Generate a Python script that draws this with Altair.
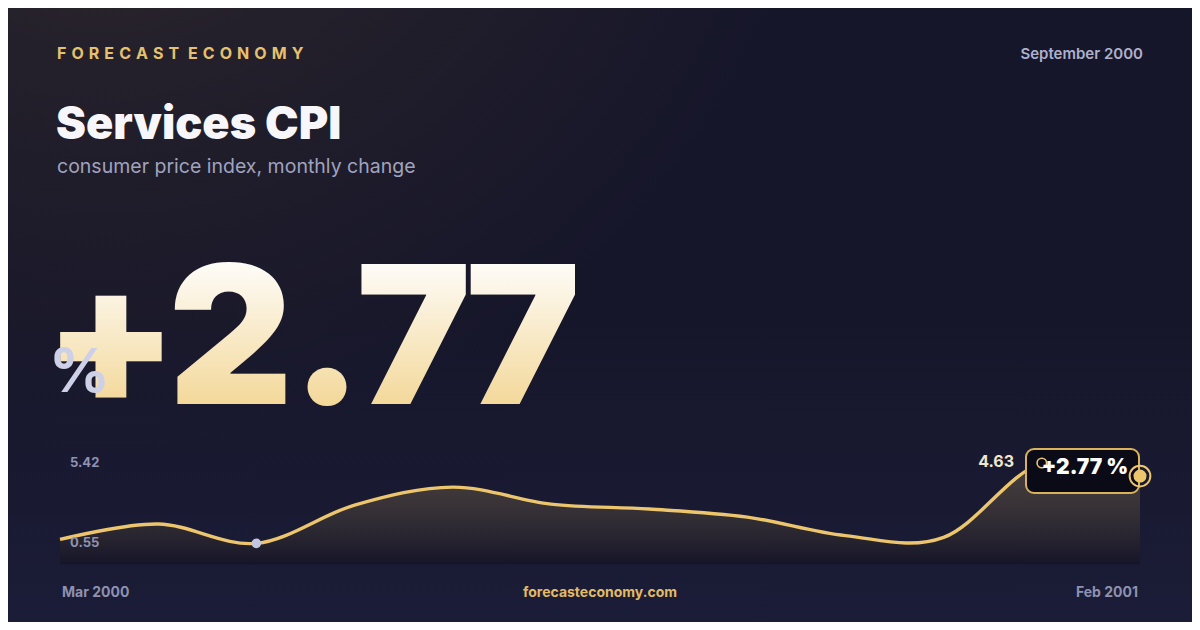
import altair as alt
import pandas as pd

# ---------------- data ----------------
months = ["Mar 2000", "Apr 2000", "May 2000", "Jun 2000", "Jul 2000", "Aug 2000",
          "Sep 2000", "Oct 2000", "Nov 2000", "Dec 2000", "Jan 2001", "Feb 2001"]
values = [0.79, 1.72, 0.55, 2.87, 3.96, 2.93, 2.63, 2.14, 1.02, 0.91, 5.42, 4.63]
change_label = "+2.77"
brand = "FORECAST ECONOMY"
period = "September 2000"
title = "Services CPI"
subtitle = "consumer price index, monthly change"
site = "forecasteconomy.com"

W, H = 1184, 614
FONT = "Inter"
GOLD = "#ecc56c"

df = pd.DataFrame({"i": list(range(len(months))), "month": months, "value": values})
vmin, vmax = df["value"].min(), df["value"].max()
df_min = df[df["value"] == vmin]
df_max = df[df["value"] == vmax]
df_last = df.iloc[[-1]].copy()
df_last["lbl"] = [f"{df_last['value'].iloc[0]:.2f}"]
df_last["badge"] = [change_label + " %"]
df_ext = pd.DataFrame({"i": [0, 0], "value": [vmax, vmin],
                       "lbl": [f"{vmax:.2f}", f"{vmin:.2f}"], "dy": [-2, 4]})
one = pd.DataFrame({"k": [0]})

Y_LO = -0.72
xs = alt.Scale(domain=[0, len(months) - 1], range=[52, 1132], nice=False, zero=False)
ys = alt.Scale(domain=[Y_LO, vmax], range=[556.3, 455.0], nice=False, zero=False)
X = alt.X("i:Q", scale=xs, axis=None)
Y = alt.Y("value:Q", scale=ys, axis=None)

# ---------------- background ----------------
bg_glow = alt.Chart(one).mark_rect(
    fill=alt.RadialGradient(
        gradient="radial", x1=0.08, y1=0.0, r1=0.0, x2=0.08, y2=0.0, r2=0.62,
        stops=[alt.GradientStop(color="#3a3029", offset=0),
               alt.GradientStop(color="#24202b", offset=0.45),
               alt.GradientStop(color="#16162a", offset=1)])
).encode(x=alt.value(0), x2=alt.value(W), y=alt.value(0), y2=alt.value(H))

bg_bottom = alt.Chart(one).mark_rect(
    fill=alt.LinearGradient(
        gradient="linear", x1=0, y1=0, x2=0, y2=1,
        stops=[alt.GradientStop(color="rgba(27,28,55,0)", offset=0),
               alt.GradientStop(color="rgba(27,28,55,1)", offset=1)])
).encode(x=alt.value(0), x2=alt.value(W), y=alt.value(300), y2=alt.value(H))


def txt(s, x, y, size, color, weight="normal", align="left", baseline="alphabetic",
        font=FONT, fill=None):
    kw = dict(text=s, align=align, baseline=baseline, font=font, fontSize=size,
              fontWeight=weight)
    if fill is not None:
        kw["fill"] = fill
    else:
        kw["color"] = color
    return alt.Chart(one).mark_text(**kw).encode(x=alt.value(x), y=alt.value(y))


# letter-spaced brand line (SVG collapses plain spaces, so use no-break + hair spaces)
gap = "\u00a0\u200a"
spaced = ("\u00a0\u00a0\u200a").join(gap.join(w) for w in brand.split(" "))
t_brand = txt(spaced, 49, 51, 16, "#e6c16d", weight="bold")
t_period = txt(period, 1135, 51, 15, "#aeb0cb", weight=600, align="right")
t_title = txt(title, 48, 131, 45, "#f7f7fb", weight=900)
t_sub = txt(subtitle, 49, 165, 19.5, "#a0a3bf")

big_fill = alt.LinearGradient(
    gradient="linear", x1=0, y1=0, x2=0, y2=1,
    stops=[alt.GradientStop(color="#ffffff", offset=0.15),
           alt.GradientStop(color="#f3d89a", offset=0.8)])
# big number, glyph by glyph (tight tracking as in the reference)
big_centers = [103, 222.7, 319, 405.7, 515]
big_layers = [txt(ch, cx, 396, 193, None, weight=900, align="center", fill=big_fill)
              for ch, cx in zip(change_label, big_centers)]
t_pct = txt("%", 41, 384, 60, "#cdd0e6", weight="bold")

t_mar = txt(months[0], 54, 589, 14, "#8e91b0", weight="bold")
t_feb = txt(months[-1], 1130, 589, 14, "#8e91b0", weight="bold", align="right")
t_site = txt(site, 592, 589, 14, "#e2bb63", weight="bold", align="center")

# ---------------- chart marks ----------------
area = alt.Chart(df).mark_area(
    interpolate="cardinal",
    fill=alt.LinearGradient(
        gradient="linear", x1=0, y1=0, x2=0, y2=1,
        stops=[alt.GradientStop(color="rgba(233,196,106,0.22)", offset=0),
               alt.GradientStop(color="rgba(12,10,16,0.35)", offset=1)])
).encode(x=X, y=Y, y2=alt.datum(Y_LO))

line = alt.Chart(df).mark_line(interpolate="cardinal", color=GOLD, strokeWidth=3.4).encode(x=X, y=Y)

min_dot = alt.Chart(df_min).mark_point(filled=True, shape="circle", size=95, color="#c3c7de",
                                       opacity=1).encode(x=X, y=Y)

ext_lbl = alt.Chart(df_ext).mark_text(align="left", baseline="middle", font=FONT, fontSize=13,
                                      fontWeight="bold", color="#8f92b3", dx=10).encode(
    x=X, y=Y, text="lbl:N", yOffset=alt.YOffset("dy:Q", scale=None))

badge_rect = alt.Chart(one).mark_rect(
    fill="#0a0b17", stroke="#d9b25a", strokeWidth=2, cornerRadius=8
).encode(x=alt.value(1018), x2=alt.value(1131), y=alt.value(441), y2=alt.value(485))

max_ring = alt.Chart(df_max).mark_point(filled=False, shape="circle", size=90, color=GOLD,
                                        strokeWidth=1.6, opacity=1).encode(x=X, y=Y)

badge_txt = alt.Chart(df_last).mark_text(align="center", baseline="middle", font=FONT, fontSize=21,
                                         fontWeight=900, color="#ffffff", dx=-55, dy=-8).encode(
    x=X, y=Y, text="badge:N")

last_lbl = alt.Chart(df_last).mark_text(align="right", baseline="middle", font=FONT, fontSize=16,
                                        fontWeight="bold", color="#f0e6cc", dx=-126, dy=-14).encode(
    x=X, y=Y, text="lbl:N")

end_ring = alt.Chart(df_last).mark_point(filled=False, shape="circle", size=430, color=GOLD,
                                         strokeWidth=2, opacity=1).encode(x=X, y=Y)
end_dot = alt.Chart(df_last).mark_point(filled=True, shape="circle", size=170, color=GOLD,
                                        opacity=1).encode(x=X, y=Y)

chart = alt.layer(
    bg_glow, bg_bottom,
    t_brand, t_period, t_title, t_sub, *big_layers, t_pct,
    area, line, min_dot, ext_lbl,
    badge_rect, max_ring, badge_txt, last_lbl, end_ring, end_dot,
    t_mar, t_feb, t_site,
).properties(
    width=W, height=H, padding=0, background="#16162a",
    autosize=alt.AutoSizeParams(type="fit", contains="padding"),
).configure_view(strokeWidth=0)

chart.save("out.html", embed_options={"renderer": "svg", "actions": False})
